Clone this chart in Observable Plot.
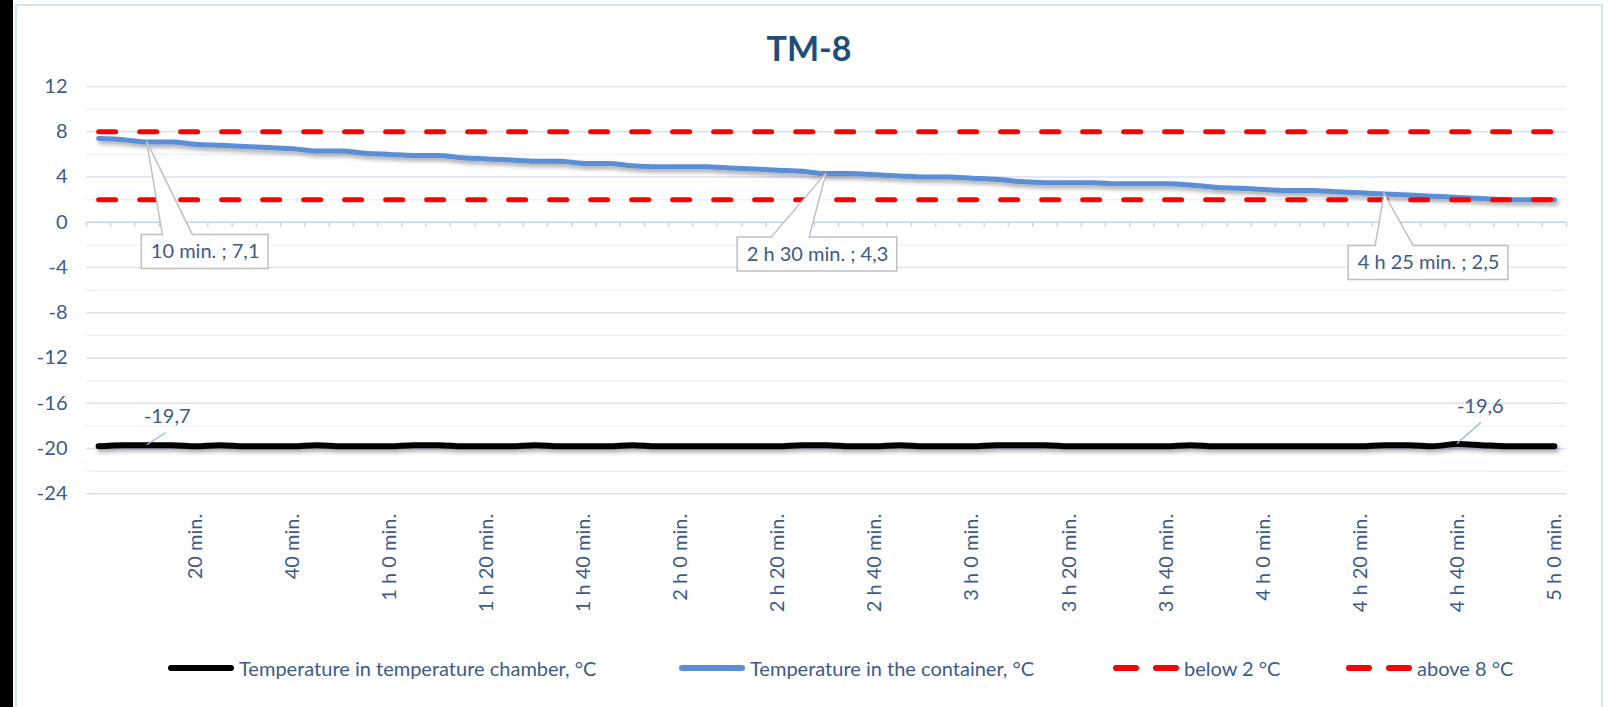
<!DOCTYPE html>
<html><head><meta charset="utf-8">
<script src="https://cdn.jsdelivr.net/npm/d3@7"></script>
<script src="https://cdn.jsdelivr.net/npm/@observablehq/plot@0.6"></script>
<style>
html,body{margin:0;padding:0;background:#fff;}
body{width:1611px;height:707px;position:relative;overflow:hidden;font-family:Lato,sans-serif;}
#strip{position:absolute;left:0;top:0;width:13px;height:707px;background:#000;}
#frame{position:absolute;left:15px;top:4px;width:1588px;height:720px;border:2px solid #D6E0F0;box-sizing:border-box;}
#title{position:absolute;left:16px;width:1586px;top:28px;text-align:center;font:700 34px/40px Lato,sans-serif;color:#1F4E79;}
#chart{position:absolute;left:0;top:70px;}
#legend{position:absolute;left:0;top:630px;width:1611px;height:77px;}
.item{position:absolute;top:28px;height:20px;display:flex;align-items:center;font:20px/20px Lato,sans-serif;color:#3D5A8A;white-space:nowrap;}
.item svg{margin-right:5px;display:block;}
</style></head><body>
<div id="strip"></div>
<div id="frame"></div>
<div id="title"></div>
<div id="chart"></div>
<div id="legend"></div>
<script>
// ---------- data ----------
const chartTitle = "TM-8";
const minutes = [0,5,10,15,20,25,30,35,40,45,50,55,60,65,70,75,80,85,90,95,100,105,110,115,120,125,130,135,140,145,150,155,160,165,170,175,180,185,190,195,200,205,210,215,220,225,230,235,240,245,250,255,260,265,270,275,280,285,290,295,300];
const chamberTemp = [-19.8,-19.7,-19.7,-19.7,-19.8,-19.7,-19.8,-19.8,-19.8,-19.7,-19.8,-19.8,-19.8,-19.7,-19.7,-19.8,-19.8,-19.8,-19.7,-19.8,-19.8,
  -19.8,-19.7,-19.8,-19.8,-19.8,-19.8,-19.8,-19.8,-19.7,-19.7,-19.8,-19.8,-19.7,-19.8,-19.8,-19.8,-19.7,-19.7,-19.7,
  -19.8,-19.8,-19.8,-19.8,-19.8,-19.7,-19.8,-19.8,-19.8,-19.8,-19.8,-19.8,-19.8,-19.7,-19.7,-19.8,-19.6,-19.7,-19.8,-19.8,-19.8];
const containerTemp = [7.4,7.3,7.1,7.1,6.9,6.8,6.7,6.6,6.5,6.3,6.3,6.1,6.0,5.9,5.9,5.7,5.6,5.5,5.4,5.4,5.2,
  5.2,5.0,4.9,4.9,4.9,4.8,4.7,4.6,4.5,4.3,4.3,4.2,4.1,4.0,4.0,3.9,3.8,3.6,3.5,
  3.5,3.5,3.4,3.4,3.4,3.3,3.1,3.0,2.9,2.8,2.8,2.7,2.6,2.5,2.4,2.3,2.2,2.1,2.0,2.0,2.0];
const limitNames = ["below 2 °C", "above 8 °C"];
const limitValues = [2, 8];
const seriesNames = ["Temperature in temperature chamber, °C", "Temperature in the container, °C"];
const tickMinutes = [20,40,60,80,100,120,140,160,180,200,220,240,260,280,300];
const tickLabels = ["20 min.","40 min.","1 h 0 min.","1 h 20 min.","1 h 40 min.","2 h 0 min.","2 h 20 min.","2 h 40 min.","3 h 0 min.","3 h 20 min.","3 h 40 min.","4 h 0 min.","4 h 20 min.","4 h 40 min.","5 h 0 min."];
const yTicks = [-24,-20,-16,-12,-8,-4,0,4,8,12];
const yMinor = [-22,-18,-14,-10,-6,-2,2,6,10];
const calloutMinutes = [10, 150, 265];
const calloutTexts = ["10 min. ; 7,1", "2 h 30 min. ; 4,3", "4 h 25 min. ; 2,5"];
const chamberLabelMinutes = [10, 280];
const chamberLabelTexts = ["-19,7", "-19,6"];

// ---------- layout (pixels) ----------
const calloutLayout = [ {dx:58, dy:110, wl:21, wr:51}, {dx:-9, dy:81, wl:34, wr:72}, {dx:44, dy:69, wl:27, wr:65} ];
const chamberLabelLayout = [ {dx:20, dy:-29, lx:19, ly:-12}, {dx:23, dy:-37, lx:24, ly:-21} ];

const C = {text:"#3D5A8A", blue:"#5B8ED6", red:"#FF0000", gridMajor:"#D9E2F2", gridMinor:"#EEF2F8", axis:"#C9D7EE"};

document.getElementById("title").textContent = chartTitle;

const rows = minutes.map((m, i) => ({m, chamber: chamberTemp[i], container: containerTemp[i]}));
const half = (minutes[1] - minutes[0]) / 2;
const boundaries = minutes.map(m => m - half).concat([minutes[minutes.length - 1] + half]);
const valueAt = m => containerTemp[minutes.indexOf(m)];
const chamberAt = m => chamberTemp[minutes.indexOf(m)];

const marks = [
  Plot.ruleY(yMinor, {stroke: C.gridMinor, strokeWidth: 1.5}),
  Plot.ruleY(yTicks, {stroke: C.gridMajor, strokeWidth: 1.5}),
  Plot.ruleY([0], {stroke: C.axis, strokeWidth: 1.5}),
  Plot.ruleX(boundaries, {y1: 0, y2: -0.45, stroke: C.axis, strokeWidth: 1.5}),
  Plot.axisY(yTicks, {tickSize: 0, tickPadding: 19, tickFormat: d => String(d), fontSize: 20, fill: C.text, label: null}),
  Plot.axisX(tickMinutes, {tickSize: 0, tickPadding: 20, tickRotate: -90, tickFormat: d => tickLabels[tickMinutes.indexOf(d)], fontSize: 20, fill: C.text, label: null}),
  Plot.line(rows, {x: "m", y: "chamber", stroke: "#000", strokeWidth: 6, curve: "monotone-x", strokeLinecap: "round", ariaDescription: "chamber-line"}),
  Plot.line(rows, {x: "m", y: "container", stroke: C.blue, strokeWidth: 5, curve: "monotone-x", strokeLinecap: "round", ariaDescription: "container-line"}),
  ...limitValues.map((v, k) => Plot.line(minutes, {x: d => d, y: () => v, stroke: C.red, strokeWidth: 5, strokeDasharray: "17,24", strokeLinecap: "round"})),
  ...calloutMinutes.map((m, k) => Plot.text([m], {x: d => d, y: d => valueAt(d), text: () => calloutTexts[k], dx: calloutLayout[k].dx, dy: calloutLayout[k].dy, fontSize: 20, fill: C.text, ariaDescription: "callout-" + k})),
  ...chamberLabelMinutes.map((m, k) => Plot.text([m], {x: d => d, y: d => chamberAt(d), text: () => chamberLabelTexts[k], dx: chamberLabelLayout[k].dx, dy: chamberLabelLayout[k].dy, fontSize: 20, fill: C.text}))
];

const plot = Plot.plot({
  width: 1611, height: 560,
  marginLeft: 86, marginRight: 45, marginTop: 16, marginBottom: 136.7,
  x: {domain: [boundaries[0], boundaries[boundaries.length - 1]], label: null},
  y: {domain: [yTicks[0], yTicks[yTicks.length - 1]], label: null},
  style: {fontFamily: "Lato, sans-serif", fontSize: "20px", color: C.text, background: "transparent", overflow: "visible"},
  marks
});
document.getElementById("chart").appendChild(plot);

// ---------- decorations using the plot's scales ----------
const sx = plot.scale("x"), sy = plot.scale("y");
const svg = d3.select(plot);
const defs = svg.insert("defs", ":first-child");
defs.append("filter").attr("id", "sh").attr("filterUnits", "userSpaceOnUse")
  .attr("x", 0).attr("y", 0).attr("width", 1611).attr("height", 560)
  .append("feDropShadow").attr("dx", 2).attr("dy", 3).attr("stdDeviation", 2)
  .attr("flood-color", "#000").attr("flood-opacity", 0.35);
svg.selectAll('g[aria-description="chamber-line"], g[aria-description="container-line"]').attr("filter", "url(#sh)");

// callout boxes (placed from the scales + the label offsets)
calloutMinutes.forEach((m, k) => {
  const g = svg.select(`g[aria-description="callout-${k}"]`);
  if (g.empty()) return;
  const bb = g.select("text").node().getBBox();
  const lay = calloutLayout[k];
  const px = sx.apply(m), py = sy.apply(valueAt(m));
  const cx = px + lay.dx, cy = py + lay.dy;
  const padX = 9, h = 34;
  const L = cx - bb.width / 2 - padX, R = cx + bb.width / 2 + padX, T = cy - h / 2, B = cy + h / 2;
  const path = `M${L},${T}L${L + lay.wl},${T}L${px},${py}L${L + lay.wr},${T}L${R},${T}L${R},${B}L${L},${B}Z`;
  svg.insert("path", () => g.node()).attr("d", path).attr("fill", "#fff").attr("stroke", "#BFBFBF").attr("stroke-width", 1.5);
});

// leader lines for chamber labels
const leaders = svg.append("g");
chamberLabelMinutes.forEach((m, k) => {
  const px = sx.apply(m), py = sy.apply(chamberAt(m));
  const lay = chamberLabelLayout[k];
  leaders.append("line").attr("x1", px).attr("y1", py).attr("x2", px + lay.lx).attr("y2", py + lay.ly)
    .attr("stroke", "#8DB3E2").attr("stroke-width", 1.2);
});

// ---------- legend ----------
const legend = d3.select("#legend");
const legendItems = [
  {name: seriesNames[0], color: "#000", dash: null, left: 168},
  {name: seriesNames[1], color: C.blue, dash: null, left: 679},
  {name: limitNames[0], color: C.red, dash: "20,20", left: 1113},
  {name: limitNames[1], color: C.red, dash: "20,20", left: 1346}
];
legendItems.forEach(it => {
  const d = legend.append("div").attr("class", "item").style("left", it.left + "px");
  const s = d.append("svg").attr("width", 66).attr("height", 20);
  s.append("line").attr("x1", 3).attr("x2", 63).attr("y1", 10).attr("y2", 10)
    .attr("stroke", it.color).attr("stroke-width", 6).attr("stroke-linecap", "round")
    .attr("stroke-dasharray", it.dash);
  d.append("span").text(it.name);
});
</script>
</body></html>
